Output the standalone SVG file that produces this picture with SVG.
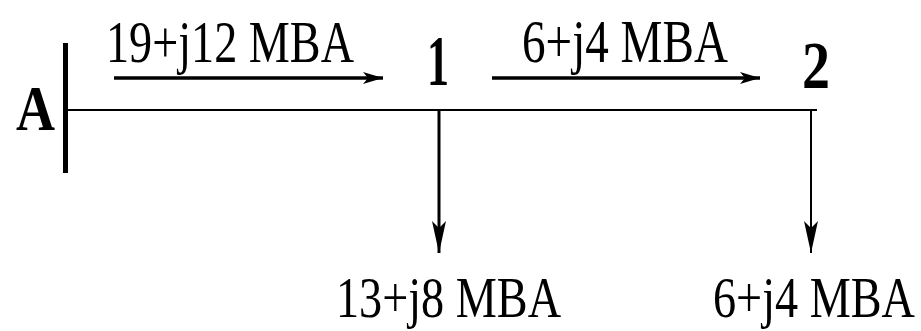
<svg xmlns="http://www.w3.org/2000/svg" width="921" height="331" viewBox="0 0 921 331">
<style>
.lbl{font-family:"Liberation Serif","Times New Roman",serif;fill:#000}
.bold{font-weight:bold}
.ln{stroke:#000;fill:none}
.head{fill:#000;stroke:none}
</style>
<defs>
<marker id="ah" viewBox="0 0 20 12" refX="20" refY="6" markerWidth="20" markerHeight="12" markerUnits="userSpaceOnUse" orient="auto">
<path class="head" d="M0,0 L20,6 L0,12 L5,6 Z"/>
</marker>
<marker id="ahv" viewBox="0 0 32 14" refX="32" refY="7" markerWidth="32" markerHeight="14" markerUnits="userSpaceOnUse" orient="auto">
<path class="head" d="M0,0 L32,7 L0,14 L7,7 Z"/>
</marker>
</defs>
<rect width="921" height="331" fill="#fff"/>
<g id="busA">
<line class="ln" x1="65.5" y1="43" x2="65.5" y2="173" stroke-width="5"/>
<text class="lbl bold" x="16" y="130" style="font-size:63px" textLength="39" lengthAdjust="spacingAndGlyphs">A</text>
</g>
<g id="node1">
<text class="lbl bold" x="427" y="85" style="font-size:71px" textLength="22" lengthAdjust="spacingAndGlyphs">1</text>
</g>
<g id="node2">
<text class="lbl bold" x="802" y="88" style="font-size:67px" textLength="28" lengthAdjust="spacingAndGlyphs">2</text>
</g>
<g id="connectors">
<line class="ln" x1="67" y1="110" x2="817" y2="110" stroke-width="2"/>
<line class="ln" x1="114" y1="78" x2="383" y2="78" stroke-width="3.5" marker-end="url(#ah)"/>
<line class="ln" x1="492" y1="78" x2="760" y2="78" stroke-width="3.5" marker-end="url(#ah)"/>
<line class="ln" x1="439" y1="110" x2="439" y2="253" stroke-width="3" marker-end="url(#ahv)"/>
<line class="ln" x1="811" y1="110" x2="811" y2="253" stroke-width="2" marker-end="url(#ahv)"/>
</g>
<g id="labels">
<text class="lbl" x="106" y="62" style="font-size:60px" textLength="248" lengthAdjust="spacingAndGlyphs">19+j12 MBA</text>
<text class="lbl" x="522" y="62" style="font-size:61px" textLength="206" lengthAdjust="spacingAndGlyphs">6+j4 MBA</text>
<text class="lbl" x="336" y="317" style="font-size:57px" textLength="225" lengthAdjust="spacingAndGlyphs">13+j8 MBA</text>
<text class="lbl" transform="translate(915,317) scale(1,1.213)" style="font-size:47px" text-anchor="end" textLength="202" lengthAdjust="spacingAndGlyphs">6+j4 MBA</text>
</g>
</svg>
